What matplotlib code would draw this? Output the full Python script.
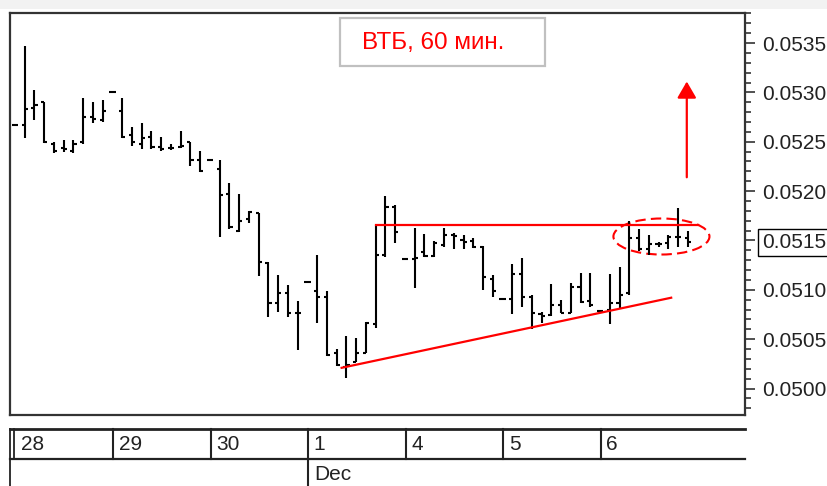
import matplotlib.pyplot as plt
from matplotlib.patches import Ellipse, Rectangle
from matplotlib.ticker import MultipleLocator

plt.rcParams['font.family'] = ['Liberation Sans', 'DejaVu Sans']

# VTB hourly bars, 28 Nov - 6 Dec, 10 bars per trading day
opens = [0.05267, 0.05267, 0.05284, 0.05290, 0.05248, 0.05244, 0.05241, 0.05250, 0.05275, 0.05272,
         0.05300, 0.05281, 0.05257, 0.05248, 0.05255, 0.05245, 0.05244, 0.05245, 0.05250, 0.05231,
         0.05232, 0.05222, 0.05197, 0.05160, 0.05172, 0.05178, 0.05127, 0.05087, 0.05097, 0.05077,
         0.05108, 0.05099, 0.05093, 0.05036, 0.05022, 0.05027, 0.05036, 0.05065, 0.05135, 0.05184,
         0.05131, 0.05131, 0.05138, 0.05134, 0.05145, 0.05156, 0.05150, 0.05149, 0.05143, 0.05111,
         0.05091, 0.05091, 0.05116, 0.05093, 0.05076, 0.05074, 0.05085, 0.05077, 0.05103, 0.05089,
         0.05079, 0.05080, 0.05087, 0.05097, 0.05152, 0.05141, 0.05146, 0.05147, 0.05154, 0.05152]
highs = [0.05267, 0.05347, 0.05302, 0.05290, 0.05250, 0.05252, 0.05252, 0.05294, 0.05290, 0.05292,
         0.05300, 0.05294, 0.05265, 0.05269, 0.05261, 0.05255, 0.05248, 0.05261, 0.05250, 0.05241,
         0.05232, 0.05232, 0.05208, 0.05197, 0.05180, 0.05178, 0.05128, 0.05115, 0.05105, 0.05089,
         0.05108, 0.05135, 0.05099, 0.05040, 0.05053, 0.05051, 0.05067, 0.05166, 0.05195, 0.05186,
         0.05131, 0.05163, 0.05157, 0.05149, 0.05163, 0.05158, 0.05156, 0.05152, 0.05144, 0.05115,
         0.05091, 0.05126, 0.05132, 0.05095, 0.05078, 0.05106, 0.05090, 0.05107, 0.05117, 0.05117,
         0.05079, 0.05116, 0.05123, 0.05170, 0.05162, 0.05156, 0.05148, 0.05156, 0.05183, 0.05160]
lows = [0.05267, 0.05254, 0.05272, 0.05249, 0.05239, 0.05240, 0.05239, 0.05248, 0.05269, 0.05270,
        0.05300, 0.05254, 0.05246, 0.05243, 0.05243, 0.05241, 0.05242, 0.05244, 0.05225, 0.05219,
        0.05232, 0.05153, 0.05162, 0.05159, 0.05168, 0.05114, 0.05072, 0.05078, 0.05072, 0.05039,
        0.05108, 0.05066, 0.05033, 0.05023, 0.05011, 0.05027, 0.05036, 0.05061, 0.05133, 0.05147,
        0.05131, 0.05102, 0.05133, 0.05133, 0.05143, 0.05141, 0.05141, 0.05142, 0.05100, 0.05093,
        0.05091, 0.05076, 0.05083, 0.05060, 0.05066, 0.05073, 0.05077, 0.05077, 0.05087, 0.05083,
        0.05079, 0.05065, 0.05081, 0.05095, 0.05139, 0.05135, 0.05143, 0.05141, 0.05143, 0.05143]
closes = [0.05267, 0.05283, 0.05287, 0.05250, 0.05241, 0.05243, 0.05248, 0.05275, 0.05273, 0.05281,
          0.05300, 0.05255, 0.05250, 0.05254, 0.05245, 0.05243, 0.05244, 0.05246, 0.05232, 0.05220,
          0.05232, 0.05196, 0.05164, 0.05170, 0.05179, 0.05128, 0.05087, 0.05097, 0.05077, 0.05077,
          0.05108, 0.05093, 0.05034, 0.05024, 0.05024, 0.05036, 0.05066, 0.05135, 0.05184, 0.05159,
          0.05131, 0.05132, 0.05134, 0.05147, 0.05156, 0.05155, 0.05148, 0.05143, 0.05113, 0.05099,
          0.05091, 0.05116, 0.05093, 0.05077, 0.05073, 0.05085, 0.05077, 0.05103, 0.05088, 0.05085,
          0.05079, 0.05087, 0.05095, 0.05152, 0.05141, 0.05146, 0.05146, 0.05154, 0.05153, 0.05148]

day_labels = ['28', '29', '30', '1', '4', '5', '6']
month_label = 'Dec'
bars_per_day = 10
price_ticks = [0.0500, 0.0505, 0.0510, 0.0515, 0.0520, 0.0525, 0.0530, 0.0535]
last_price_tick = 0.0515

# hand-drawn analysis marks (bar index, price)
resistance_x = [37, 70]
resistance_y = [0.05166, 0.05166]
support_x = [33.5, 67.3]
support_y = [0.05021, 0.05092]
ellipse_center = (66.3, 0.05154)
ellipse_size = (9.85, 0.000365)
arrow_x = 68.9
arrow_from = 0.05214
arrow_to = 0.05311
title = 'ВТБ, 60 мин.'

W, H = 828, 486
fig = plt.figure(figsize=(W / 100, H / 100), dpi=100)
fig.patches.append(Rectangle((0, 1 - 9 / H), 1, 9 / H, transform=fig.transFigure,
                             facecolor='#f2f2f2', edgecolor='none', zorder=0))

xlim = (-0.51, 74.87)
ax = fig.add_axes([10 / W, 71 / H, 735 / W, 402 / H])
ax.set_xlim(*xlim)
ax.set_ylim(0.049732, 0.053804)

idx = list(range(len(opens)))
ax.vlines(idx, lows, highs, color='black', lw=1.5)
ax.hlines(opens, [i - 0.32 for i in idx], idx, color='black', lw=1.5)
ax.hlines(closes, idx, [i + 0.32 for i in idx], color='black', lw=1.5)

red = '#ff0000'
ax.plot(resistance_x, resistance_y, color=red, lw=1.6)
ax.plot(support_x, support_y, color=red, lw=1.6)
ax.add_patch(Ellipse(ellipse_center, ellipse_size[0], ellipse_size[1], fill=False,
                     edgecolor=red, lw=1.5, linestyle=(0, (5, 2.5))))
ax.annotate('', xy=(arrow_x, arrow_to), xytext=(arrow_x, arrow_from),
            arrowprops=dict(arrowstyle='-|>,head_length=0.5,head_width=0.29',
                            mutation_scale=20, color=red, lw=1.6, shrinkA=0, shrinkB=0))

# price axis on the right
ax.set_xticks([])
ax.yaxis.tick_right()
ax.set_yticks(price_ticks, labels=[f'{t:.4f}' for t in price_ticks])
ax.yaxis.set_minor_locator(MultipleLocator(0.0001))
ax.tick_params(axis='y', which='major', length=7.5, width=1.1, pad=5,
               labelsize=15, colors='#222222')
ax.tick_params(axis='y', which='minor', length=4.5, width=1.1, colors='#222222')
for lbl, t in zip(ax.get_yticklabels(), price_ticks):
    if abs(t - last_price_tick) < 1e-9:
        lbl.set_bbox(dict(boxstyle='square,pad=0.2', facecolor='white',
                          edgecolor='black', lw=1))
for sp in ax.spines.values():
    sp.set_linewidth(1.6)
    sp.set_color('#333333')

# title box
fig.patches.append(Rectangle((340 / W, 1 - 66 / H), 205 / W, 48 / H, transform=fig.transFigure,
                             facecolor='white', edgecolor='#c0c0c0', lw=1.6))
fig.text(362 / W, 1 - 43 / H, title, color=red, fontsize=17.5, ha='left', va='center')

# date strip
dax = fig.add_axes([10 / W, 0, 735 / W, 57 / H])
dax.set_xlim(*xlim)
dax.set_ylim(0, 57)
dax.axis('off')
lc = '#222222'
dax.plot(xlim, [57, 57], color=lc, lw=2, clip_on=False)
dax.plot(xlim, [27, 27], color=lc, lw=1.6, clip_on=False)
dax.plot([-0.5, -0.5], [0, 57], color=lc, lw=1.3, clip_on=False)
dax.plot([-0.05, -0.05], [27, 57], color=lc, lw=1.3, clip_on=False)
for k, lab in enumerate(day_labels):
    start = k * bars_per_day
    if k > 0:
        y0 = 0 if lab == '1' else 27
        dax.plot([start + 0.1, start + 0.1], [y0, 57], color=lc, lw=1.5, clip_on=False)
    dax.text(start + 0.65, 42, lab, fontsize=15, color='#222222', ha='left', va='center')
    if lab == '1':
        dax.text(start + 0.65, 12, month_label, fontsize=15, color='#222222',
                 ha='left', va='center')

fig.savefig('out.png', dpi=100)
